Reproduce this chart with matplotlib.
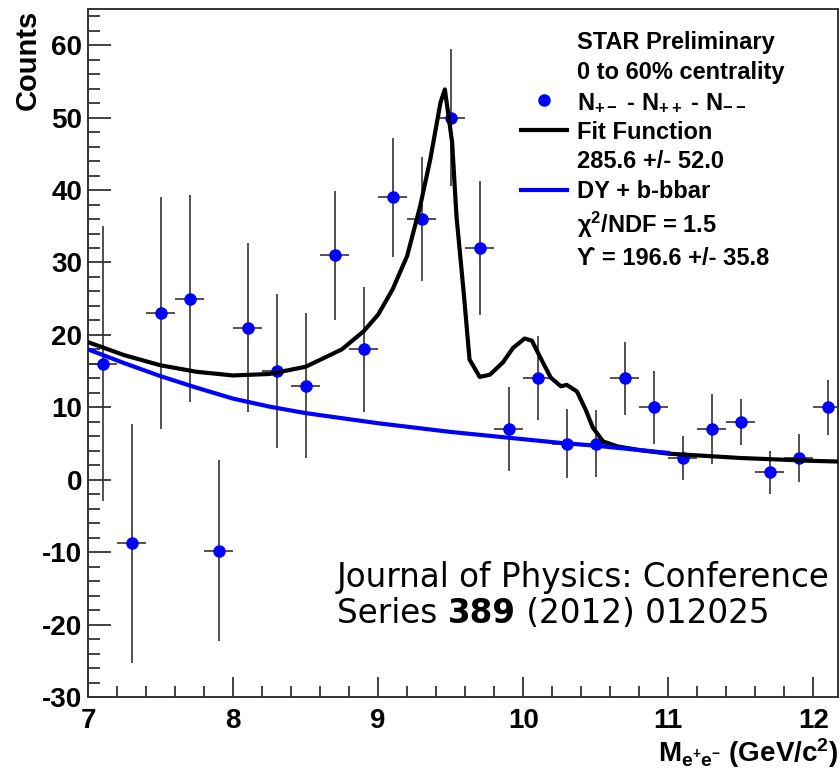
import matplotlib
matplotlib.use('Agg')
import matplotlib.pyplot as plt
from matplotlib.lines import Line2D
from matplotlib.ticker import MultipleLocator

# invariant mass bins (GeV/c^2), unlike-sign minus like-sign counts
mass = [7.1, 7.3, 7.5, 7.7, 7.9, 8.1, 8.3, 8.5, 8.7, 8.9, 9.1, 9.3, 9.5,
        9.7, 9.9, 10.1, 10.3, 10.5, 10.7, 10.9, 11.1, 11.3, 11.5, 11.7, 11.9, 12.1]
counts = [16, -8.8, 23, 25, -9.8, 21, 15, 13, 31, 18, 39, 36, 50,
          32, 7, 14, 5, 5, 14, 10, 3, 7, 8, 1, 3, 10]
count_err = [19, 16.5, 16, 14.3, 12.5, 11.7, 10.6, 10, 8.9, 8.6, 8.2, 8.6, 9.5,
             9.3, 5.8, 5.8, 4.8, 4.6, 5, 5, 3, 4.8, 3.2, 3, 3.3, 3.8]
bin_half = 0.1

# fit function
fit_x = [7.0, 7.25, 7.5, 7.75, 8.0, 8.25, 8.5, 8.75, 8.9, 9.0, 9.1, 9.2, 9.29,
         9.36, 9.43, 9.46, 9.51, 9.54, 9.59, 9.63, 9.70, 9.77, 9.86, 9.93, 10.01,
         10.06, 10.12, 10.19, 10.26, 10.30, 10.37, 10.43, 10.48, 10.55, 10.65,
         10.8, 11.0, 11.5, 12.0, 12.2]
fit_y = [19.0, 17.2, 15.8, 14.9, 14.4, 14.6, 15.6, 18.0, 20.5, 22.8, 26.3, 30.9, 37.8,
         44.3, 52.1, 53.9, 46.6, 36.4, 25.8, 16.6, 14.2, 14.5, 16.2, 18.2, 19.5,
         19.2, 16.8, 14.1, 12.9, 13.1, 12.2, 9.7, 7.2, 5.3, 4.6,
         4.1, 3.6, 3.0, 2.6, 2.5]

# DY + b-bbar background
bkg_x = [7.0, 7.25, 7.5, 7.75, 8.0, 8.25, 8.5, 8.75, 9.0, 9.25, 9.5, 9.75,
         10.0, 10.25, 10.5, 10.75, 11.0]
bkg_y = [18.0, 16.1, 14.3, 12.7, 11.2, 10.1, 9.2, 8.5, 7.8, 7.2, 6.6, 6.1,
         5.6, 5.1, 4.7, 4.2, 3.7]

plt.rcParams['font.family'] = ['Liberation Sans', 'DejaVu Sans']
plt.rcParams['font.weight'] = 'bold'
plt.rcParams['axes.unicode_minus'] = False
plt.rcParams['mathtext.fontset'] = 'custom'
plt.rcParams['mathtext.rm'] = 'Liberation Sans:bold'
plt.rcParams['mathtext.bf'] = 'Liberation Sans:bold'
plt.rcParams['mathtext.it'] = 'Liberation Sans:bold'
plt.rcParams['mathtext.default'] = 'rm'

W, H = 840, 774
fig = plt.figure(figsize=(W / 100, H / 100), dpi=100)
ax = fig.add_axes([88 / W, 77 / H, 750 / W, 688 / H])

ax.errorbar(mass, counts, yerr=count_err, xerr=bin_half, fmt='o', color='#0000ff',
            markersize=8, ecolor='#333333', elinewidth=1.2, capsize=0, zorder=2)
ax.plot(fit_x, fit_y, color='black', lw=3, zorder=3)
ax.plot(bkg_x, bkg_y, color='#0000ff', lw=3, zorder=4)

ax.set_xlim(7, 12.17)
ax.set_ylim(-30, 65)
ax.xaxis.set_major_locator(MultipleLocator(1))
ax.xaxis.set_minor_locator(MultipleLocator(0.2))
ax.yaxis.set_major_locator(MultipleLocator(10))
ax.yaxis.set_minor_locator(MultipleLocator(2))
ax.tick_params(axis='both', which='both', direction='in', colors='#333333',
               width=1.3, labelcolor='black', labelsize=20)
ax.tick_params(axis='x', which='major', length=14.4, pad=8)
ax.tick_params(axis='x', which='minor', length=7.9)
ax.tick_params(axis='y', which='major', length=16.6, pad=4)
ax.tick_params(axis='y', which='minor', length=8.6)
for s in ax.spines.values():
    s.set_color('#333333')
    s.set_linewidth(1.4)

fig.text(28 / W, 1 - 60 / H, 'Counts', rotation=90, ha='center', va='center',
         fontsize=21, fontweight='bold')
fig.text(838 / W, 1 - 762 / H, r'M$_{e^{+}e^{-}}$ (GeV/c$^{2}$)', ha='right',
         va='baseline', fontsize=20, fontweight='bold')

# legend block
handles = [
    Line2D([], [], linestyle='none'),
    Line2D([], [], linestyle='none'),
    Line2D([], [], linestyle='none', marker='o', color='#0000ff', markersize=8),
    Line2D([], [], color='black', lw=3),
    Line2D([], [], linestyle='none'),
    Line2D([], [], color='#0000ff', lw=3),
    Line2D([], [], linestyle='none'),
    Line2D([], [], linestyle='none'),
]
labels = ['STAR Preliminary', '0 to 60% centrality',
          r'N$_{+-}$ - N$_{++}$ - N$_{--}$', 'Fit Function', '285.6 +/- 52.0',
          'DY + b-bbar', r'$\chi^{2}$/NDF = 1.5', '\u03d2 = 196.6 +/- 35.8']
leg = ax.legend(handles, labels, loc='upper left', bbox_to_anchor=(521 / W, 1 - 31 / H),
                bbox_transform=fig.transFigure, frameon=False, fontsize=17,
                handlelength=1.95, handletextpad=0.42, labelspacing=0.29,
                borderpad=0, borderaxespad=0)

# citation
jfont = dict(family='DejaVu Sans', fontsize=23.5, fontweight='normal')
fig.text(337 / W, 1 - 587 / H, 'Journal of Physics: Conference', va='baseline', **jfont)
t1 = fig.text(337 / W, 1 - 623 / H, 'Series ', va='baseline', **jfont)
t2 = ax.annotate('389', xy=(1, 0), xycoords=t1, va='bottom', ha='left',
                 family='DejaVu Sans', fontsize=23.5, fontweight='bold')
ax.annotate(' (2012) 012025', xy=(1, 0), xycoords=t2, va='bottom', ha='left', **jfont)

fig.savefig('out.png', dpi=100)
